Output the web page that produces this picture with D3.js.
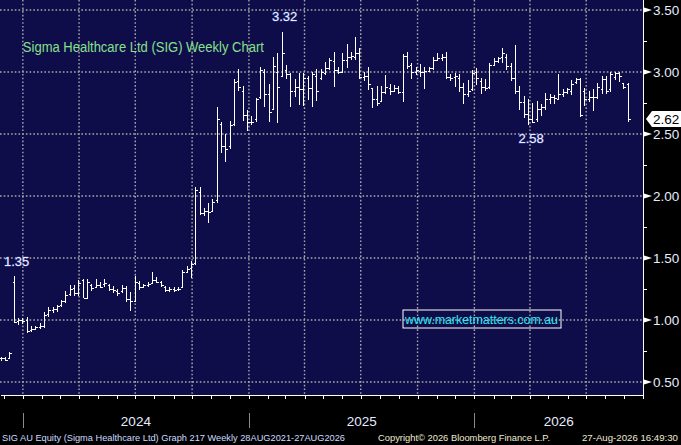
<!DOCTYPE html>
<html lang="en">
<head>
<meta charset="UTF-8">
<title>Sigma Healthcare Ltd (SIG) Weekly Chart</title>
<style>
    body {
        margin: 0;
        padding: 0;
        background: #000;
        overflow: hidden;
    }
    svg {
        display: block;
        font-family: 'Liberation Sans', Arial, sans-serif;
    }
    .grid line {
        stroke: #a8a8a8;
        stroke-width: 1.4;
        stroke-dasharray: 1.6, 2.1;
    }
    .bar line {
        stroke: #ffffff;
        stroke-width: 1;
        shape-rendering: crispEdges;
    }
    .xaxis path, .xaxis line {
        stroke: #ffffff;
        shape-rendering: crispEdges;
    }
</style>
</head>
<body>
<svg id="chart" width="681" height="445"></svg>

<script src="https://d3js.org/d3.v7.min.js"></script>
<script>
    const width = 681;
    const height = 445;
    const plotRight = 643;
    const plotBottom = 395;

    // weekly bars, first week starting 26 Nov 2023
    const firstWeek = new Date(2023, 10, 26);

    const opens = [
        0.69, 0.69, 0.69, 1.31, 0.99, 1.00, 1.00, 0.92, 0.93, 0.94,
        0.95, 1.05, 1.08, 1.09, 1.12, 1.15, 1.21, 1.26, 1.22, 1.32,
        1.18, 1.28, 1.27, 1.28, 1.29, 1.28, 1.25, 1.23, 1.23, 1.26,
        1.17, 1.15, 1.30, 1.27, 1.28, 1.30, 1.32, 1.31, 1.27, 1.24,
        1.25, 1.25, 1.27, 1.39, 1.42, 1.46, 2.03, 1.86, 1.88, 1.88,
        1.97, 2.58, 2.40, 2.40, 2.58, 2.93, 2.85, 2.65, 2.60, 2.62,
        2.80, 3.00, 2.82, 2.70, 3.00, 2.97, 3.02, 2.98, 2.85, 2.88,
        2.86, 2.95, 2.87, 2.97, 2.95, 2.99, 3.03, 3.09, 3.02, 3.00,
        3.10, 3.12, 3.12, 3.15, 2.96, 2.97, 2.87, 2.78, 2.77, 2.84,
        2.87, 2.85, 2.87, 2.84, 3.13, 3.06, 3.00, 3.01, 3.00, 3.01,
        3.03, 3.10, 3.11, 3.12, 2.96, 2.96, 2.95, 2.88, 2.82, 2.86,
        3.00, 2.93, 2.88, 2.88, 3.06, 3.09, 3.12, 3.12, 3.05, 2.95,
        2.85, 2.76, 2.66, 2.62, 2.62, 2.70, 2.72, 2.78, 2.80, 2.78,
        2.82, 2.84, 2.85, 2.92, 2.94, 2.85, 2.78, 2.80, 2.80, 2.86,
        2.94, 2.86, 2.96, 2.99, 2.91, 2.90
    ];
    const highs = [
        0.70, 0.70, 0.74, 1.35, 1.01, 1.01, 1.02, 0.95, 0.95, 0.97,
        1.06, 1.10, 1.10, 1.12, 1.16, 1.23, 1.28, 1.28, 1.32, 1.33,
        1.33, 1.29, 1.33, 1.30, 1.33, 1.29, 1.27, 1.25, 1.28, 1.27,
        1.22, 1.35, 1.31, 1.29, 1.30, 1.38, 1.34, 1.31, 1.27, 1.26,
        1.26, 1.26, 1.40, 1.43, 1.47, 2.07, 2.07, 1.90, 1.94, 1.97,
        2.71, 2.59, 2.50, 2.60, 2.94, 3.02, 2.88, 2.69, 2.64, 2.79,
        3.04, 3.02, 2.90, 3.12, 3.15, 3.32, 3.05, 2.99, 2.94, 2.99,
        2.99, 2.96, 3.00, 3.02, 3.02, 3.08, 3.11, 3.16, 3.04, 3.15,
        3.22, 3.16, 3.28, 3.19, 3.00, 3.04, 2.87, 2.88, 2.88, 2.97,
        2.90, 2.89, 2.88, 3.14, 3.16, 3.07, 3.04, 3.06, 3.04, 3.04,
        3.12, 3.15, 3.14, 3.16, 2.98, 2.99, 2.98, 2.91, 2.93, 3.01,
        3.03, 2.95, 2.94, 3.07, 3.11, 3.12, 3.19, 3.14, 3.07, 3.21,
        2.88, 2.80, 2.78, 2.75, 2.76, 2.74, 2.83, 2.82, 2.81, 2.98,
        2.86, 2.87, 2.93, 2.95, 2.95, 2.87, 2.84, 2.86, 2.91, 2.96,
        2.96, 3.00, 3.00, 3.00, 2.91, 2.91
    ];
    const lows = [
        0.67, 0.67, 0.69, 0.98, 0.96, 0.97, 0.90, 0.91, 0.92, 0.93,
        0.94, 1.03, 1.06, 1.07, 1.11, 1.14, 1.20, 1.20, 1.20, 1.18,
        1.18, 1.24, 1.26, 1.26, 1.27, 1.24, 1.22, 1.20, 1.22, 1.15,
        1.08, 1.15, 1.25, 1.26, 1.27, 1.30, 1.30, 1.27, 1.23, 1.23,
        1.23, 1.24, 1.26, 1.38, 1.34, 1.45, 1.85, 1.84, 1.79, 1.88,
        1.95, 2.35, 2.28, 2.38, 2.57, 2.85, 2.61, 2.53, 2.58, 2.60,
        2.79, 2.72, 2.60, 2.70, 2.59, 2.97, 2.95, 2.72, 2.80, 2.74,
        2.73, 2.78, 2.72, 2.77, 2.94, 2.98, 3.02, 2.88, 2.99, 3.00,
        3.04, 3.10, 3.10, 2.95, 2.93, 2.86, 2.71, 2.73, 2.76, 2.83,
        2.82, 2.84, 2.83, 2.76, 3.03, 2.95, 2.98, 2.96, 2.87, 3.01,
        3.02, 3.09, 3.09, 2.95, 2.93, 2.88, 2.84, 2.75, 2.80, 2.85,
        2.90, 2.83, 2.85, 2.87, 3.05, 3.08, 3.08, 3.02, 2.93, 2.83,
        2.70, 2.63, 2.58, 2.59, 2.60, 2.65, 2.70, 2.75, 2.75, 2.78,
        2.80, 2.83, 2.82, 2.91, 2.64, 2.73, 2.76, 2.69, 2.79, 2.83,
        2.83, 2.84, 2.94, 2.92, 2.87, 2.60
    ];
    const closes = [
        0.69, 0.68, 0.73, 0.98, 1.00, 0.99, 0.91, 0.93, 0.94, 0.95,
        1.04, 1.08, 1.09, 1.11, 1.15, 1.20, 1.25, 1.22, 1.30, 1.18,
        1.31, 1.26, 1.28, 1.27, 1.30, 1.25, 1.24, 1.22, 1.26, 1.17,
        1.15, 1.31, 1.27, 1.28, 1.29, 1.32, 1.31, 1.28, 1.24, 1.25,
        1.24, 1.25, 1.39, 1.41, 1.45, 2.05, 1.86, 1.88, 1.87, 1.95,
        2.62, 2.40, 2.38, 2.57, 2.92, 2.88, 2.65, 2.60, 2.60, 2.78,
        3.02, 2.82, 2.68, 3.05, 2.88, 3.15, 2.98, 2.85, 2.88, 2.86,
        2.95, 2.87, 2.98, 2.85, 3.00, 3.03, 3.10, 3.02, 3.00, 3.10,
        3.12, 3.13, 3.15, 2.96, 2.97, 2.90, 2.78, 2.75, 2.84, 2.88,
        2.85, 2.87, 2.84, 3.13, 3.05, 3.00, 3.02, 3.00, 3.01, 3.03,
        3.10, 3.11, 3.12, 2.96, 2.95, 2.97, 2.88, 2.82, 2.85, 2.99,
        2.95, 2.88, 2.87, 3.06, 3.09, 3.11, 3.15, 3.05, 2.95, 2.85,
        2.76, 2.66, 2.62, 2.60, 2.70, 2.72, 2.78, 2.80, 2.79, 2.82,
        2.84, 2.86, 2.90, 2.94, 2.65, 2.78, 2.80, 2.80, 2.88, 2.94,
        2.85, 2.98, 2.99, 2.97, 2.88, 2.62
    ];

    const yTicks = [0.5, 1.0, 1.5, 2.0, 2.5, 3.0, 3.5];
    const yMinorTicks = [0.75, 1.25, 1.75, 2.25, 2.75, 3.25];
    const yearLabels = ['2024', '2025', '2026'];
    const lastPrice = 2.62;

    // high / low callouts: bar index, value, side
    const callouts = [
        { bar: 3, value: 1.35, side: 'above' },
        { bar: 65, value: 3.32, side: 'above' },
        { bar: 122, value: 2.58, side: 'below' }
    ];

    const titleText = 'Sigma Healthcare Ltd (SIG) Weekly Chart';
    const watermark = 'www.marketmatters.com.au';
    const footerLeft = 'SIG AU Equity (Sigma Healthcare Ltd) Graph 217 Weekly 28AUG2021-27AUG2026';
    const footerMid = 'Copyright\u00a9 2026 Bloomberg Finance L.P.';
    const footerRight = '27-Aug-2026 16:49:30';

    const weeks = d3.timeWeek.range(firstWeek, d3.timeWeek.offset(firstWeek, closes.length));
    const bars = weeks.map((d, i) => ({
        date: d, open: opens[i], high: highs[i], low: lows[i], close: closes[i]
    }));

    const x = d3.scaleTime()
        .domain([new Date(2023, 10, 25), new Date(2026, 9, 1)])
        .range([0, plotRight]);

    const y = d3.scaleLinear()
        .domain([0.5, 3.5])
        .range([382, 10]);

    const svg = d3.select('#chart');

    svg.append('rect')
        .attr('width', width).attr('height', height)
        .attr('fill', '#000');

    svg.append('rect')
        .attr('width', plotRight).attr('height', plotBottom)
        .attr('fill', '#0f0c4a');

    // grid
    const grid = svg.append('g').attr('class', 'grid');
    const quarters = x.ticks(d3.timeMonth.every(3)).filter(d => x(d) < plotRight - 2);
    grid.selectAll('.vg')
        .data(quarters)
        .enter().append('line')
        .attr('x1', d => x(d)).attr('x2', d => x(d))
        .attr('y1', 0).attr('y2', plotBottom);
    grid.selectAll('.hg')
        .data(yTicks)
        .enter().append('line')
        .attr('x1', 0).attr('x2', plotRight)
        .attr('y1', d => y(d)).attr('y2', d => y(d));

    // title
    svg.append('text')
        .attr('x', x(new Date(2024, 0, 1)))
        .attr('y', 52)
        .attr('fill', '#86e08a')
        .attr('font-size', 14)
        .attr('textLength', 241)
        .attr('lengthAdjust', 'spacingAndGlyphs')
        .text(titleText);

    // watermark
    const wm = svg.append('g').attr('transform', `translate(403,310)`);
    wm.append('rect')
        .attr('width', 158).attr('height', 18)
        .attr('fill', 'none')
        .attr('stroke', '#ffffff')
        .attr('stroke-width', 1);
    wm.append('text')
        .attr('x', 2).attr('y', 14)
        .attr('fill', '#2ee8f0')
        .attr('font-size', 13)
        .attr('textLength', 153)
        .attr('lengthAdjust', 'spacingAndGlyphs')
        .text(watermark);

    // OHLC bars
    const bar = svg.append('g').attr('class', 'bar')
        .selectAll('g')
        .data(bars)
        .enter().append('g')
        .attr('transform', d => `translate(${Math.round(x(d.date)) + 0.5},0)`);

    bar.append('line')
        .attr('x1', 0).attr('x2', 0)
        .attr('y1', d => y(d.high) - 0.5)
        .attr('y2', d => y(d.low) + 0.5);
    bar.append('line')
        .attr('x1', -2).attr('x2', 0)
        .attr('y1', d => Math.round(y(d.open)) + 0.5)
        .attr('y2', d => Math.round(y(d.open)) + 0.5);
    bar.append('line')
        .attr('x1', 0).attr('x2', 2.5)
        .attr('y1', d => Math.round(y(d.close)) + 0.5)
        .attr('y2', d => Math.round(y(d.close)) + 0.5);

    // high / low callouts
    svg.selectAll('.callout')
        .data(callouts)
        .enter().append('text')
        .attr('class', 'callout')
        .attr('x', d => x(bars[d.bar].date) + 3)
        .attr('y', d => d.side === 'above' ? y(d.value) - 11 : y(d.value) + 19)
        .attr('text-anchor', 'middle')
        .attr('fill', '#eef0ff')
        .attr('font-size', 13)
        .style('paint-order', 'stroke')
        .attr('stroke', '#3a4aa0')
        .attr('stroke-width', 0.8)
        .text(d => d.value.toFixed(2));

    // bottom axis
    const xAxis = d3.axisBottom(x)
        .ticks(d3.timeMonth.every(1))
        .tickSize(4)
        .tickSizeOuter(0)
        .tickFormat('');
    svg.append('g')
        .attr('class', 'xaxis')
        .attr('transform', `translate(0,${plotBottom - 0.5})`)
        .call(xAxis);

    // year separators and labels
    const yearStarts = yearLabels.map(t => new Date(+t, 0, 1));
    svg.selectAll('.ysep')
        .data(yearStarts)
        .enter().append('line')
        .attr('x1', d => Math.round(x(d)) + 0.5).attr('x2', d => Math.round(x(d)) + 0.5)
        .attr('y1', 413).attr('y2', 428)
        .attr('stroke', '#8a8a8a')
        .attr('stroke-width', 1);

    svg.selectAll('.ylab')
        .data(yearLabels)
        .enter().append('text')
        .attr('x', t => {
            const a = Math.max(0, x(new Date(+t, 0, 1)));
            const b = Math.min(plotRight, x(new Date(+t + 1, 0, 1)));
            return (a + b) / 2;
        })
        .attr('y', 426)
        .attr('text-anchor', 'middle')
        .attr('fill', '#e6ecff')
        .attr('font-size', 13.5)
        .text(t => t);

    // right axis
    svg.append('line')
        .attr('x1', plotRight + 0.5).attr('x2', plotRight + 0.5)
        .attr('y1', 0).attr('y2', plotBottom + 3)
        .attr('stroke', '#ffffff')
        .attr('stroke-width', 1);

    svg.selectAll('.minor')
        .data(yMinorTicks)
        .enter().append('line')
        .attr('x1', plotRight).attr('x2', plotRight + 4)
        .attr('y1', d => Math.round(y(d)) + 0.5).attr('y2', d => Math.round(y(d)) + 0.5)
        .attr('stroke', '#ffffff');

    const major = svg.selectAll('.major')
        .data(yTicks)
        .enter().append('g')
        .attr('transform', d => `translate(${plotRight},${y(d)})`);
    major.append('path')
        .attr('d', 'M1,-2.5 L9,0 L1,2.5 Z')
        .attr('fill', '#ffffff');
    major.append('text')
        .attr('x', 10)
        .attr('y', 5)
        .attr('fill', '#e6ecff')
        .attr('font-size', 13.5)
        .text(d => d.toFixed(2));

    // last price tag
    const tag = svg.append('g').attr('transform', `translate(${plotRight},${y(lastPrice)})`);
    tag.append('path')
        .attr('d', 'M3,0 L9,-8 L38,-8 L38,8 L9,8 Z')
        .attr('fill', '#ffffff');
    tag.append('text')
        .attr('x', 10)
        .attr('y', 5)
        .attr('fill', '#000000')
        .attr('font-size', 13.5)
        .text(lastPrice.toFixed(2));

    // footer
    svg.append('text')
        .attr('x', 2).attr('y', 441)
        .attr('fill', '#cddcff')
        .attr('font-size', 9.5)
        .attr('textLength', 343)
        .attr('lengthAdjust', 'spacingAndGlyphs')
        .text(footerLeft);
    svg.append('text')
        .attr('x', 378).attr('y', 441)
        .attr('fill', '#f0ead2')
        .attr('font-size', 9.5)
        .attr('textLength', 172)
        .attr('lengthAdjust', 'spacingAndGlyphs')
        .text(footerMid);
    svg.append('text')
        .attr('x', 582).attr('y', 441)
        .attr('fill', '#f0ead2')
        .attr('font-size', 9.5)
        .attr('textLength', 96)
        .attr('lengthAdjust', 'spacingAndGlyphs')
        .text(footerRight);
</script>
</body>
</html>
